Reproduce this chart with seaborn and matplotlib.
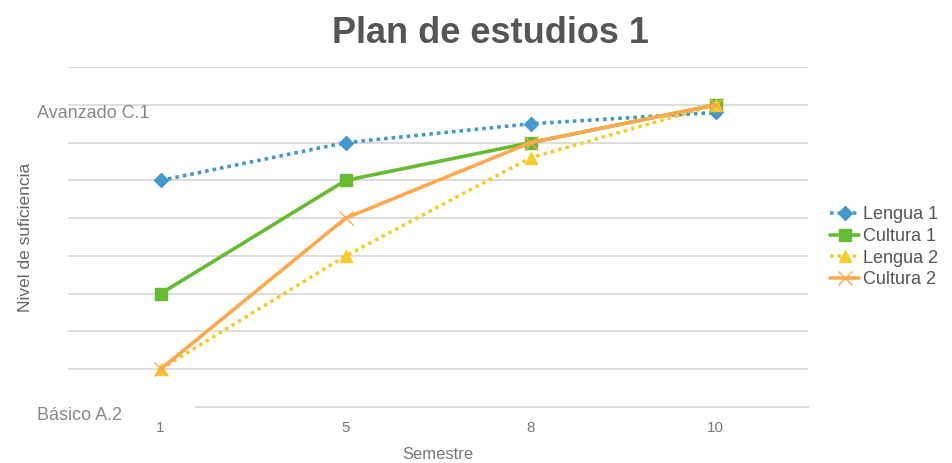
import matplotlib
matplotlib.use("Agg")
import matplotlib.pyplot as plt
import matplotlib.transforms as mtransforms
import pandas as pd
import seaborn as sns

# data
semestres = ["1", "5", "8", "10"]
lengua_1 = [6.0, 7.0, 7.5, 7.8]
cultura_1 = [3.0, 6.0, 7.0, 8.0]
lengua_2 = [1.0, 4.0, 6.6, 8.0]
cultura_2 = [1.0, 5.0, 7.0, 8.0]
nivel_ticks = [0, 8]
nivel_labels = ["Básico A.2", "Avanzado C.1"]

series = [
    ("Lengua 1", lengua_1, "#4499cc", "D", (0, (1, 1.1)), 7, 1),
    ("Cultura 1", cultura_1, "#66bb33", "s", "-", 9, 1),
    ("Lengua 2", lengua_2, "#f4cc2e", "^", (0, (1, 1.1)), 9, 1),
    ("Cultura 2", cultura_2, "#fca84c", "x", "-", 10, 1.0),
]

sns.set_theme(style="white")
plt.rcParams["font.family"] = ["Liberation Sans", "DejaVu Sans"]

fig = plt.figure(figsize=(9.53, 4.63), dpi=100)
ax = fig.add_axes([0.0714, 0.121, 0.7766, 0.734])

for name, vals, color, marker, ls, ms, mew in series:
    df = pd.DataFrame({"Semestre": semestres, "Nivel": vals})
    sns.lineplot(data=df, x="Semestre", y="Nivel", ax=ax, color=color,
                 marker=marker, markersize=ms, markeredgewidth=mew,
                 markeredgecolor=color, linestyle=ls, linewidth=2.6,
                 label=name, sort=False)

ax.set_xlim(-0.5, 3.5)
ax.set_ylim(0, 9)
ax.set_yticks(range(0, 10))
ax.set_yticklabels([nivel_labels[nivel_ticks.index(v)] if v in nivel_ticks else ""
                    for v in range(0, 10)])
ax.grid(axis="y", color="#dcdcdc", linewidth=1.4)
ax.grid(axis="x", visible=False)
ax.get_ygridlines()[0].set_visible(False)

for s in ["top", "left", "right"]:
    ax.spines[s].set_visible(False)
ax.spines["bottom"].set_color("#dcdcdc")
ax.spines["bottom"].set_linewidth(1.4)
ax.spines["bottom"].set_bounds(0.19, 3.5)

ax.tick_params(axis="y", length=0, pad=22, labelsize=13, labelcolor="#888888")
ax.tick_params(axis="x", length=0, pad=10, labelsize=11, labelcolor="#777777")
offset = mtransforms.ScaledTranslation(0, -7 / 100, fig.dpi_scale_trans)
for lab in ax.get_yticklabels():
    lab.set_horizontalalignment("left")
    lab.set_transform(lab.get_transform() + offset)

ax.set_xlabel("Semestre", fontsize=12, color="#777777", labelpad=8.5)
ax.set_ylabel("Nivel de suficiencia", fontsize=12.5, color="#666666")
ax.yaxis.set_label_coords(-0.048, 0.5)

fig.suptitle("Plan de estudios 1", x=0.515, y=0.965, fontsize=26,
             fontweight="bold", color="#555555")

leg = ax.legend(loc="center left", bbox_to_anchor=(1.02, 0.47), frameon=False,
                fontsize=13, handlelength=1.6, handletextpad=0.2,
                labelspacing=0.25, borderaxespad=0)
for t in leg.get_texts():
    t.set_color("#555555")

fig.savefig("out.png", dpi=100)
